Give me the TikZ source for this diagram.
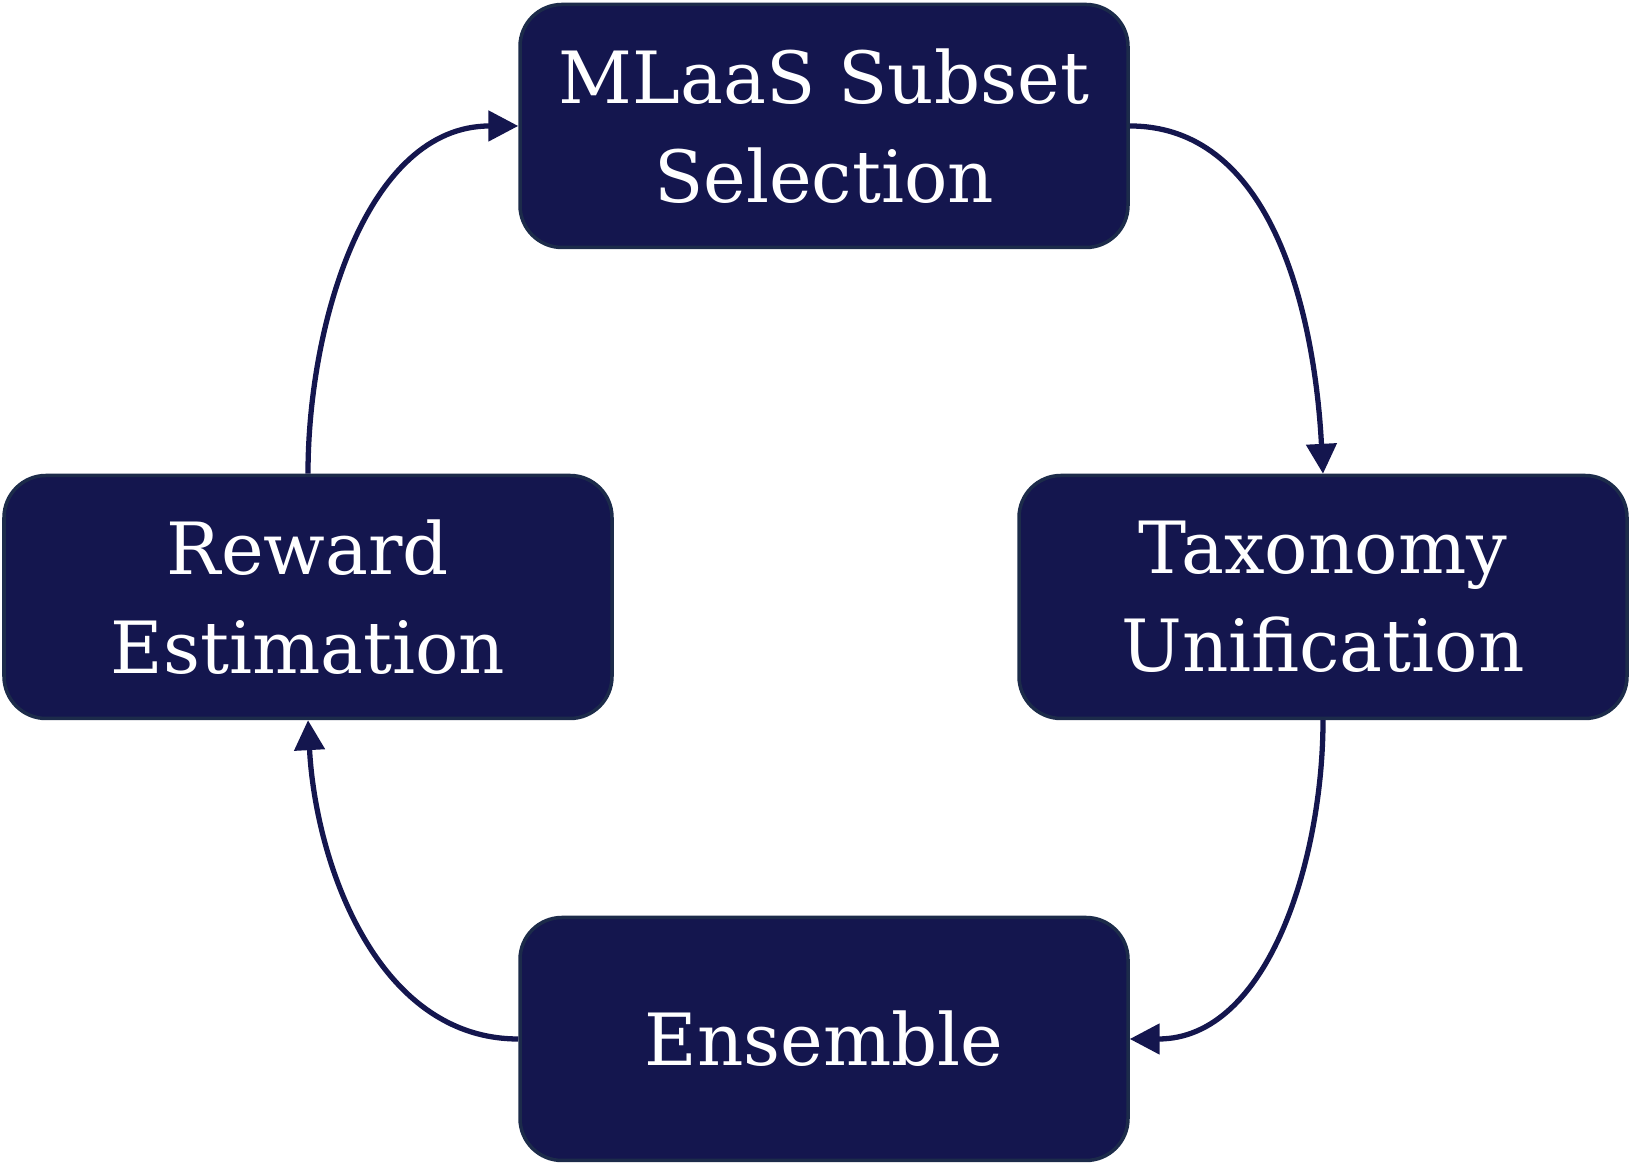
\documentclass[tikz,border=0pt]{standalone}
\usepackage{fontspec}
\setmainfont{DejaVu Serif}
\usetikzlibrary{arrows.meta}

\definecolor{boxfill}{RGB}{20,22,78}
\definecolor{boxline}{RGB}{28,43,74}

\tikzset{
    stage/.style={draw=boxline, line width=0.035cm, fill=boxfill, rounded corners=0.42cm,
        minimum width=6.08cm, minimum height=2.43cm, text=white, align=center,
        font=\fontsize{20.5}{28}\selectfont},
    flow/.style={draw=boxfill, line width=1.5pt, -{Triangle[length=8.5pt,width=8.5pt]}}
}

\begin{document}
\begin{tikzpicture}
    \useasboundingbox (0,0) rectangle (16.31,11.64);
    \node[stage] (subset) at (8.24,10.38) {MLaaS Subset\\Selection};
    \node[stage] (taxonomy) at (13.23,5.67) {Taxonomy\\Unification};
    \node[stage] (reward) at (3.08,5.67) {Reward\\Estimation};
    \node[stage] (ensemble) at (8.24,1.25) {Ensemble};
    \draw[flow] (subset.east) to[out=0,in=93,looseness=0.95] (taxonomy.north);
    \draw[flow] (taxonomy.south) to[out=-90,in=0,looseness=0.95] (ensemble.east);
    \draw[flow] (ensemble.west) to[out=180,in=-87,looseness=0.95] (reward.south);
    \draw[flow] (reward.north) to[out=90,in=180,looseness=0.95] (subset.west);
\end{tikzpicture}
\end{document}
